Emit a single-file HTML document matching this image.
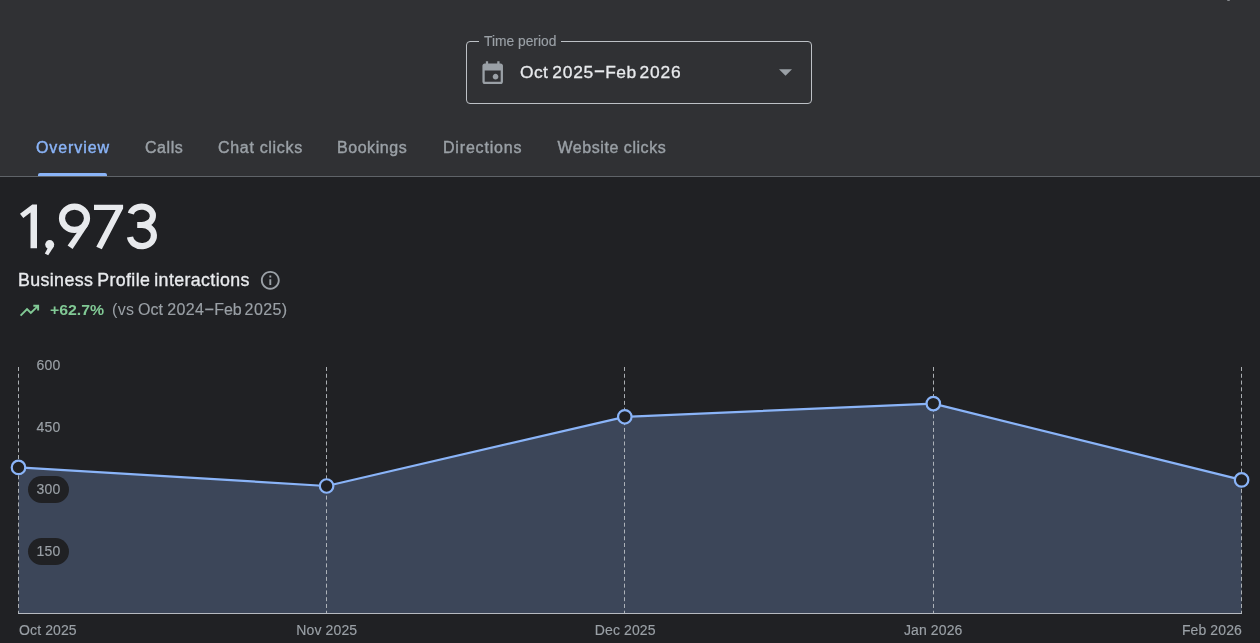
<!DOCTYPE html>
<html>
<head>
<meta charset="utf-8">
<style>
html,body{margin:0;padding:0;}
body{width:1260px;height:643px;overflow:hidden;background:#202124;font-family:"Liberation Sans",sans-serif;position:relative;}
.abs{position:absolute;white-space:nowrap;}
#wrap{position:absolute;left:0;top:0;width:1260px;height:643px;will-change:transform;}
#top{position:absolute;left:0;top:0;width:1260px;height:176px;background:#303134;}
#topline{position:absolute;left:0;top:176px;width:1260px;height:1px;background:#5f6368;}
#sel{position:absolute;left:466px;top:41px;width:344px;height:61px;border:1px solid #bdc1c6;border-radius:4px;}
#notch{position:absolute;left:479px;top:40px;width:82px;height:4px;background:#303134;}
#lbl{left:484px;top:34px;font-size:13.800px;line-height:16px;color:#9aa0a6;-webkit-text-stroke:0.150px #9aa0a6;}
#val,.valw{left:520px;top:60.600px;font-size:17.400px;line-height:22px;color:#e8eaed;-webkit-text-stroke:0.300px #e8eaed;letter-spacing:0.450px;}
.dash{display:inline-block;width:10.500px;height:2px;background:#dcdee1;margin:0 1.200px 0 1.500px;vertical-align:4.500px;}
.tab{font-size:16px;line-height:20px;color:#9aa0a6;top:137.500px;-webkit-text-stroke:0.400px currentColor;letter-spacing:0.550px;}
#ind{position:absolute;left:38px;top:173px;width:69px;height:3px;background:#8ab4f8;border-radius:2px 2px 0 0;}
#big{left:17px;top:190px;font-size:66px;line-height:76px;color:#e8eaed;}
#bpi{left:18px;top:269.300px;font-size:17.800px;line-height:22px;color:#e8eaed;-webkit-text-stroke:0.350px #e8eaed;letter-spacing:0.380px;word-spacing:-1.300px;}
#pct{left:50px;top:299.500px;font-size:14.800px;line-height:20px;color:#81c995;font-weight:bold;transform:scaleX(1.070);transform-origin:0 0;}
#vs{left:112px;top:299.600px;font-size:16px;line-height:20px;color:#9aa0a6;letter-spacing:0.150px;word-spacing:-1.200px;}
.vsw{top:299.600px;font-size:16px;line-height:20px;color:#9aa0a6;-webkit-text-stroke:0.150px #9aa0a6;}
.dash2{display:inline-block;width:8px;height:1.500px;background:#9aa0a6;margin:0 1.300px 0 2.500px;vertical-align:4.300px;}
.yl{font-size:14px;line-height:16px;color:#9aa0a6;left:36.600px;letter-spacing:0.150px;-webkit-text-stroke:0.150px #9aa0a6;}
.xl{font-size:14px;line-height:16px;color:#9aa0a6;top:621.600px;letter-spacing:0.120px;-webkit-text-stroke:0.150px #9aa0a6;}
.pill{position:absolute;left:27.500px;width:41.500px;height:27px;border-radius:14px;background:#202124;}
</style>
</head>
<body>
<div id="wrap">
<div id="top"></div>
<div id="topline"></div>
<div class="abs" style="left:1227px;top:0;width:3px;height:1px;background:#85888c;border-radius:0 0 1px 1px;"></div>

<div id="sel"></div>
<div id="notch"></div>
<div id="lbl" class="abs">Time period</div>
<svg class="abs" style="left:478.600px;top:58.600px" width="27.400" height="27.400" viewBox="0 -960 960 960"><path fill="#9aa0a6" d="M580-240q-42 0-71-29t-29-71q0-42 29-71t71-29q42 0 71 29t29 71q0 42-29 71t-71 29ZM200-80q-33 0-56.500-23.500T120-160v-560q0-33 23.500-56.500T200-800h40v-80h80v80h320v-80h80v80h40q33 0 56.500 23.500T840-720v560q0 33-23.500 56.500T760-80H200Zm0-80h560v-400H200v400Z"/></svg>
<div id="val" class="abs">Oct</div><div class="abs valw" style="left:552.200px;letter-spacing:0.800px;">2025</div><svg class="abs" style="left:590px;top:66px" width="20" height="10" viewBox="590 66 20 10"><rect x="594.700" y="70.250" width="9.500" height="2.100" fill="#e8eaed"/></svg><div class="abs valw" style="left:605.300px;">Feb</div><div class="abs valw" style="left:639.500px;letter-spacing:0.850px;">2026</div>
<svg class="abs" style="left:779px;top:69px" width="13" height="7" viewBox="0 0 12 6"><path fill="#9aa0a6" d="M0 0h12L6 6z"/></svg>

<div class="abs tab" style="left:36px;color:#8ab4f8;letter-spacing:0.900px;">Overview</div>
<div class="abs tab" style="left:145px;">Calls</div>
<div class="abs tab" style="left:218px;letter-spacing:0.680px;">Chat clicks</div>
<div class="abs tab" style="left:337px;">Bookings</div>
<div class="abs tab" style="left:443px;letter-spacing:0.820px;">Directions</div>
<div class="abs tab" style="left:557.500px;">Website clicks</div>
<div id="ind"></div>

<svg class="abs" style="left:0;top:190px" width="200" height="76" viewBox="0 190 200 76">
  <g fill="#e8eaed" stroke="none">
    <polygon points="32.300,204.600 37,204.600 37,248.300 30.500,248.300 30.500,212.600 23.300,218 20,213.700"/>
    <circle cx="49.700" cy="244.600" r="4.500"/>
    <polygon points="54,246.200 48.200,255.200 44.800,253.500 49.200,245.500"/>
    <polygon points="67.600,245.600 72.600,249 87.900,225.800 83,225 77.500,231.800"/>
    <polygon points="94,204.800 123.100,204.800 123.100,208.500 101.800,249.200 96.300,246.700 115.600,209.900 94,209.900"/>
  </g>
  <g fill="none" stroke="#e8eaed" stroke-width="6.200">
    <ellipse cx="74.500" cy="218.200" rx="12.500" ry="11.650"/>
    <path d="M130.800 213.600 A11.200 9.200 0 1 1 141.100 225 M137.200 225 L142 225 A12 10.600 0 1 1 130 237"/>
  </g>
</svg>
<div id="bpi" class="abs">Business Profile interactions</div>
<svg class="abs" style="left:259.050px;top:269.050px" width="22.600" height="22.600" viewBox="0 0 24 24"><path fill="#9aa0a6" d="M11 7h2v2h-2zm0 4h2v6h-2zm1-9C6.48 2 2 6.480 2 12s4.480 10 10 10 10-4.480 10-10S17.520 2 12 2zm0 18c-4.410 0-8-3.590-8-8s3.590-8 8-8 8 3.590 8 8-3.590 8-8 8z"/></svg>
<svg class="abs" style="left:18px;top:299.100px" width="23" height="23" viewBox="0 -960 960 960"><path fill="#81c995" d="m136-240-56-56 296-298 160 160 208-206H640v-80h240v240h-80v-104L536-320 376-480 136-240Z"/></svg>
<div id="pct" class="abs">+62.7%</div>
<div id="vs" class="abs" style="letter-spacing:0.300px">(vs</div><div class="abs vsw" style="left:138px;">Oct</div><div class="abs vsw" style="left:167.300px;letter-spacing:0.350px;">2024</div><svg class="abs" style="left:200px;top:305px" width="20" height="10" viewBox="200 305 20 10"><rect x="205.200" y="308.550" width="8.200" height="1.700" fill="#9aa0a6"/></svg><div class="abs vsw" style="left:214.300px;letter-spacing:-0.150px;">Feb</div><div class="abs vsw" style="left:244.600px;letter-spacing:0.400px;">2025)</div>

<svg class="abs" style="left:0;top:340px" width="1260" height="303" viewBox="0 340 1260 303">
  <polygon fill="#3c4659" points="18.5,467.4 326.6,486.0 624.8,416.8 933.3,403.6 1241.6,479.9 1241.600,613 18.500,613"/>
  <g stroke="#bdc1c6" stroke-opacity="0.880" stroke-width="1" stroke-dasharray="4 2.770" fill="none">
    <line x1="18.500" y1="367" x2="18.500" y2="613"/>
    <line x1="326.500" y1="367" x2="326.500" y2="613"/>
    <line x1="624.500" y1="367" x2="624.500" y2="613"/>
    <line x1="933.500" y1="367" x2="933.500" y2="613"/>
    <line x1="1241.500" y1="367" x2="1241.500" y2="613"/>
  </g>
  <line x1="18" y1="613.500" x2="1242" y2="613.500" stroke="#b6bac1" stroke-width="1"/>
  <polyline fill="none" stroke="#8ab4f8" stroke-width="2.250" stroke-linejoin="round" points="18.5,467.4 326.6,486.0 624.8,416.8 933.3,403.6 1241.6,479.9"/>
  <g fill="#202124" stroke="#8ab4f8" stroke-width="2.200">
    <circle cx="18.5" cy="467.4" r="6.750"/>
    <circle cx="326.6" cy="486.0" r="6.750"/>
    <circle cx="624.8" cy="416.8" r="6.750"/>
    <circle cx="933.3" cy="403.6" r="6.750"/>
    <circle cx="1241.6" cy="479.9" r="6.750"/>
  </g>
</svg>
<div class="pill" style="top:476px"></div>
<div class="pill" style="top:538px"></div>
<div class="abs yl" style="top:357px">600</div>
<div class="abs yl" style="top:419px">450</div>
<div class="abs yl" style="top:481px">300</div>
<div class="abs yl" style="top:543px">150</div>

<div class="abs xl" style="left:19px;">Oct 2025</div>
<div class="abs xl" style="left:326.800px;transform:translateX(-50%);">Nov 2025</div>
<div class="abs xl" style="left:625.200px;transform:translateX(-50%);">Dec 2025</div>
<div class="abs xl" style="left:933.200px;transform:translateX(-50%);">Jan 2026</div>
<div class="abs xl" style="right:18px;">Feb 2026</div>
</div>
</body>
</html>
